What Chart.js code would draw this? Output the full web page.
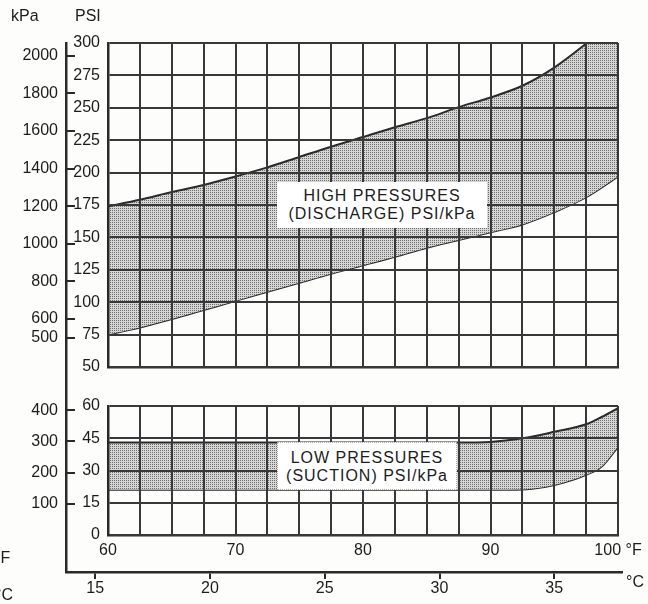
<!DOCTYPE html>
<html>
<head>
<meta charset="utf-8">
<title>High and low pressure ranges</title>
<script src="https://cdn.jsdelivr.net/npm/chart.js@4.4.1/dist/chart.umd.min.js"></script>
<style>
  html, body { margin: 0; padding: 0; background: #fdfdfc; }
  #sheet {
    position: relative; width: 648px; height: 604px; overflow: hidden;
    font-family: "Liberation Sans", Arial, sans-serif; color: #1c1c1c;
  }
  #sheet canvas { position: absolute; left: 0; top: 0; }
  .unit { position: absolute; font-size: 16px; line-height: 18px; white-space: nowrap; }
  .note {
    position: absolute; box-sizing: border-box; background: #fff;
    text-align: center; font-size: 16px; line-height: 18px; letter-spacing: 1px;
  }
</style>
</head>
<body>
<div id="sheet">
  <canvas id="celsiusChart" width="648" height="604"></canvas>
  <canvas id="highChart" width="648" height="604"></canvas>
  <canvas id="lowChart" width="648" height="604"></canvas>

  <div class="unit" style="left:11px; top:7px">kPa</div>
  <div class="unit" style="left:75px; top:7px">PSI</div>
  <div class="unit" style="left:-6px; top:549px">°F</div>
  <div class="unit" style="left:-5px; top:586px">°C</div>
  <div class="unit" style="left:626px; top:573px">°C</div>

  <div class="note" style="left:277px; top:182px; width:210px; height:46px; padding-top:5px">HIGH PRESSURES<br>(DISCHARGE) PSI/kPa</div>
  <div class="note" style="left:277px; top:442px; width:180px; height:48px; padding-top:6px; border:1px dotted #aaa">LOW PRESSURES<br>(SUCTION) PSI/kPa</div>
</div>

<script>
// Ambient temperature (°F) and gauge pressure band edges (PSI)
const tempsF = [60, 62.5, 65, 67.5, 70, 72.5, 75, 77.5, 80, 82.5, 85, 87.5, 90, 92.5, 95, 97.5, 100];
const highTop = [174, 179, 185, 190.5, 197, 204, 212, 220, 227.5, 235, 242, 250.5, 258, 267, 281, 299.5, 320];
const highBottom = [75, 80.5, 87, 94, 101, 108, 115, 122, 128.5, 135, 142, 148, 154, 160, 169.5, 181, 197];

const lowTempsF = [60, 70, 80, 87.5, 90, 92.5, 95, 97.5, 98.75, 100];
const lowTop = [43, 43, 43, 43, 43.3, 45, 48, 51.5, 55, 59];
const lowBottom = [21, 21, 21, 21, 21, 21.2, 23.3, 28, 32, 41];

// Tick labels
const fahrenheitTicks = [60, 70, 80, 90, 100];
const fahrenheitLabels = ['60', '70', '80', '90', '100 °F'];
const celsiusTicks = [15, 20, 25, 30, 35];
const highKpaTicks = [500, 600, 800, 1000, 1200, 1400, 1600, 1800, 2000];
const lowKpaTicks = [100, 200, 300, 400];

// Layout (canvas pixels)
const W = 648, H = 604;
const PLOT_LEFT = 108, PLOT_RIGHT = 618;
const SPINE_X = 66, AXIS_END_X = 622;
const HIGH_TOP = 43, HIGH_BOTTOM = 367;
const LOW_TOP = 406, LOW_BOTTOM = 535;
const CELSIUS_LINE = 572;

const F_MIN = 60, F_MAX = 100;
const KPA_PER_PSI = 6.895;
const fToC = f => (f - 32) * 5 / 9;
const pxPerF = (PLOT_RIGHT - PLOT_LEFT) / (F_MAX - F_MIN);

const INK = '#2a2a2a';
const FONT = { family: '"Liberation Sans", Arial, sans-serif', size: 16 };
const GRID = { color: '#383838', lineWidth: 2, drawTicks: false, z: 1 };
const BORDER = { color: INK, width: 2.5, z: 1 };

Chart.defaults.color = '#1c1c1c';
Chart.defaults.font.family = FONT.family;
Chart.defaults.font.size = FONT.size;

/**
 * Dotted screen-tone fill like the printed chart
 */
function screenTone(canvas) {
  const tile = document.createElement('canvas');
  tile.width = tile.height = 2;
  const t = tile.getContext('2d');
  t.fillStyle = '#d6d6d6';
  t.fillRect(0, 0, 2, 2);
  t.fillStyle = '#6e6e6e';
  t.fillRect(0, 0, 1, 1);
  return canvas.getContext('2d').createPattern(tile, 'repeat');
}

function toPoints(xs, ys) {
  return xs.map((x, i) => ({ x: x, y: ys[i] }));
}

function bandDatasets(xs, top, bottom, tone) {
  const line = {
    xAxisID: 'x',
    yAxisID: 'y',
    borderColor: INK,
    borderWidth: 2,
    pointRadius: 0,
    cubicInterpolationMode: 'monotone'
  };
  return [
    Object.assign({ label: 'upper', data: toPoints(xs, top), fill: '+1', backgroundColor: tone }, line),
    Object.assign({ label: 'lower', data: toPoints(xs, bottom), fill: false }, line)
  ];
}

function kpaScale(maxPsi, minPsi, ticks) {
  return {
    type: 'linear',
    axis: 'y',
    position: 'left',
    weight: 1,
    min: minPsi * KPA_PER_PSI,
    max: maxPsi * KPA_PER_PSI,
    afterBuildTicks: s => { s.ticks = ticks.map(v => ({ value: v })); },
    ticks: { padding: 17, autoSkip: false, callback: v => String(v) },
    grid: { drawOnChartArea: false, tickLength: -9, color: INK, lineWidth: 2 },
    border: { display: false },
    afterFit: s => { s.width = SPINE_X; }
  };
}

const baseOptions = {
  responsive: false,
  animation: false,
  events: [],
  plugins: { legend: { display: false }, tooltip: { enabled: false } }
};

// Background chart: the kPa spine and the °C scale
const celsiusCanvas = document.getElementById('celsiusChart');
new Chart(celsiusCanvas, {
  type: 'line',
  data: { datasets: [] },
  options: Object.assign({}, baseOptions, {
    layout: { padding: { top: HIGH_TOP, right: W - AXIS_END_X, bottom: 0, left: 0 } },
    scales: {
      x: {
        type: 'linear',
        position: 'bottom',
        min: fToC(F_MIN - (PLOT_LEFT - SPINE_X) / pxPerF),
        max: fToC(F_MAX + (AXIS_END_X - PLOT_RIGHT) / pxPerF),
        afterBuildTicks: s => { s.ticks = celsiusTicks.map(v => ({ value: v })); },
        ticks: { padding: 0, maxRotation: 0, minRotation: 0, autoSkip: false },
        grid: { drawOnChartArea: false, tickLength: 7, color: INK, lineWidth: 2 },
        border: { color: INK, width: 2.5 },
        afterFit: s => { s.height = H - CELSIUS_LINE; }
      },
      y: {
        type: 'linear',
        min: 0,
        max: 1,
        ticks: { display: false },
        grid: { display: false },
        border: { color: INK, width: 2.5 },
        afterFit: s => { s.width = SPINE_X; }
      }
    }
  })
});

// High pressures (discharge) panel
const highCanvas = document.getElementById('highChart');
new Chart(highCanvas, {
  type: 'line',
  data: { datasets: bandDatasets(tempsF, highTop, highBottom, screenTone(highCanvas)) },
  options: Object.assign({}, baseOptions, {
    layout: { padding: { top: HIGH_TOP, right: W - PLOT_RIGHT, bottom: H - HIGH_BOTTOM, left: 0 } },
    scales: {
      x: {
        type: 'linear',
        min: F_MIN,
        max: F_MAX,
        ticks: { display: false, stepSize: 2.5, autoSkip: false },
        grid: GRID,
        border: BORDER,
        afterFit: s => { s.height = 0; }
      },
      y: {
        type: 'linear',
        position: 'left',
        min: 50,
        max: 300,
        ticks: { stepSize: 25, padding: 8, autoSkip: false },
        grid: GRID,
        border: BORDER,
        afterFit: s => { s.width = PLOT_LEFT - SPINE_X; }
      },
      kpa: kpaScale(300, 50, highKpaTicks)
    }
  })
});

// Low pressures (suction) panel with the °F scale
const lowCanvas = document.getElementById('lowChart');
new Chart(lowCanvas, {
  type: 'line',
  data: { datasets: bandDatasets(lowTempsF, lowTop, lowBottom, screenTone(lowCanvas)) },
  options: Object.assign({}, baseOptions, {
    layout: { padding: { top: LOW_TOP, right: W - PLOT_RIGHT, bottom: H - LOW_BOTTOM - 30, left: 0 } },
    scales: {
      x: {
        type: 'linear',
        min: F_MIN,
        max: F_MAX,
        ticks: {
          stepSize: 2.5,
          autoSkip: false,
          maxRotation: 0,
          minRotation: 0,
          padding: 6,
          callback: v => {
            const i = fahrenheitTicks.indexOf(v);
            return i >= 0 ? fahrenheitLabels[i] : '';
          }
        },
        grid: GRID,
        border: BORDER,
        afterFit: s => { s.height = 30; }
      },
      y: {
        type: 'linear',
        position: 'left',
        min: 0,
        max: 60,
        ticks: { stepSize: 15, padding: 8, autoSkip: false },
        grid: GRID,
        border: BORDER,
        afterFit: s => { s.width = PLOT_LEFT - SPINE_X; }
      },
      kpa: kpaScale(60, 0, lowKpaTicks)
    }
  })
});
</script>
</body>
</html>
